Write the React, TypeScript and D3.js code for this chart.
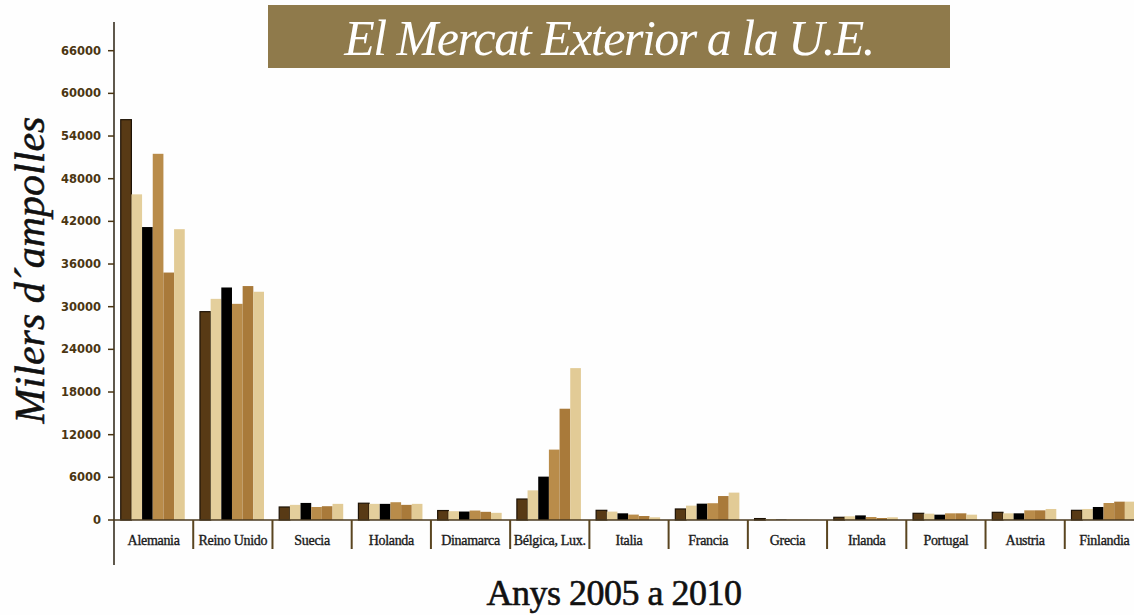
import React from "react";
import * as d3 from "d3";

const countries = [
  "Alemania", "Reino Unido", "Suecia", "Holanda", "Dinamarca", "Bélgica, Lux.",
  "Italia", "Francia", "Grecia", "Irlanda", "Portugal", "Austria", "Finlandia",
];
const years = ["2005", "2006", "2007", "2008", "2009", "2010"];

// miles de botellas, una fila por país (2005..2010)
const y2005 = [56300, 29300, 1830, 2360, 1330, 2950, 1360, 1550, 200, 380, 940, 1080, 1360];
const y2006 = [45800, 31100, 2130, 2270, 1240, 4170, 1180, 2020, 120, 520, 890, 940, 1550];
const y2007 = [41200, 32700, 2400, 2270, 1190, 6100, 940, 2300, 60, 650, 750, 940, 1830];
const y2008 = [51500, 30400, 1830, 2500, 1330, 9900, 760, 2360, 40, 420, 940, 1360, 2390];
const y2009 = [34800, 32900, 1940, 2130, 1150, 15650, 560, 3370, 30, 280, 940, 1360, 2580];
const y2010 = [40900, 32100, 2270, 2270, 1010, 21360, 380, 3850, 30, 380, 750, 1550, 2580];
const series = [y2005, y2006, y2007, y2008, y2009, y2010];

const yTicks = [0, 6000, 12000, 18000, 24000, 30000, 36000, 42000, 48000, 54000, 60000, 66000];
const colors = ["#583a15", "#e4cf9c", "#000000", "#b98c4a", "#a97a3a", "#e2cb96"];

const W = 1134, H = 615;
const axisX = 114, axisY = 520;

export default function App() {
  const y = d3.scaleLinear().domain([0, 66000]).range([axisY, 50.7]);
  const x0 = d3.scaleBand<string>().domain(countries).range([axisX, 1144]).padding(0);
  const bw = x0.bandwidth();
  const x1 = d3.scaleBand<string>().domain(years).range([bw * 0.085, bw * 0.893]).padding(0);

  return (
    <svg width={W} height={H} style={{ position: "absolute", left: 0, top: 0, background: "#fefefe" }}>
      {/* banner */}
      <rect x={268} y={5} width={682} height={63} fill="#8f7a4b" />
      <text x={609} y={55} textAnchor="middle" fill="#fff" fontFamily="Liberation Serif" fontStyle="italic"
        fontSize={50} letterSpacing={-1.5}>El Mercat Exterior a la U.E.</text>

      {/* bars */}
      {countries.map((c, i) => (
        <g key={c} transform={`translate(${x0(c)},0)`}>
          {series.map((s, j) => (
            <rect key={j} x={x1(years[j])} y={y(s[i])} width={x1.bandwidth()} height={axisY - y(s[i])}
              fill={colors[j]} stroke={j === 0 ? "#1e1306" : "none"} strokeWidth={j === 0 ? 1.2 : 0} />
          ))}
        </g>
      ))}

      {/* y axis */}
      <line x1={axisX} x2={axisX} y1={22} y2={565} stroke="#2a2010" strokeWidth={1.5} />
      {yTicks.map(t => (
        <g key={t}>
          <line x1={axisX - 6} x2={axisX} y1={y(t)} y2={y(t)} stroke="#4a3512" strokeWidth={1.5} />
          <text x={101} y={y(t) + 4} textAnchor="end" fontFamily="DejaVu Sans" fontWeight="bold"
            fontSize={11.5} fill="#4b3612">{t}</text>
        </g>
      ))}

      {/* x axis */}
      <line x1={axisX} x2={1144} y1={axisY} y2={axisY} stroke="#4a3a20" strokeWidth={1.5} />
      {countries.map((c, i) => (
        <g key={c}>
          {i > 0 && (
            <line x1={x0(c)} x2={x0(c)} y1={axisY} y2={549} stroke="#5a4520" strokeWidth={2} />
          )}
          <text x={(x0(c) as number) + bw / 2} y={545} textAnchor="middle" fontFamily="Liberation Serif"
            fontSize={14} letterSpacing={-0.3} fill="#1a1a1a" stroke="#1a1a1a" strokeWidth={0.35}>{c}</text>
        </g>
      ))}

      {/* axis titles */}
      <text transform="translate(44,270) rotate(-90)" textAnchor="middle" fontFamily="Liberation Serif"
        fontStyle="italic" fontSize={42} fill="#111" stroke="#111" strokeWidth={0.5}>Milers d´ampolles</text>
      <text x={614} y={605} textAnchor="middle" fontFamily="Liberation Serif" fontSize={36}
        letterSpacing={-0.5} fill="#111" stroke="#111" strokeWidth={0.6}>Anys 2005 a 2010</text>
    </svg>
  );
}
